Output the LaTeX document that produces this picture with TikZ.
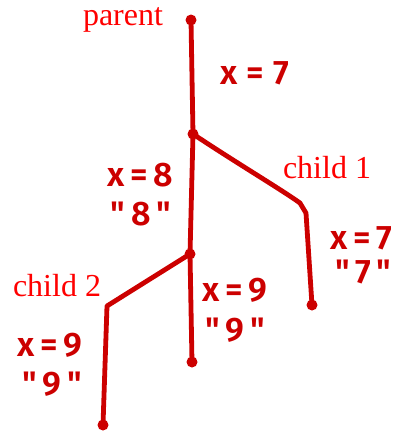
\documentclass[tikz,border=0pt]{standalone}
\usepackage{fontspec}
\setmainfont{Liberation Serif}
\newfontfamily\handfont{Fira Sans}[UprightFont=* SemiBold]
\definecolor{ink}{HTML}{CC0000}
\definecolor{lbl}{HTML}{FF0000}
\begin{document}
\begin{tikzpicture}[x=1pt,y=-1pt,
  branch/.style={draw=ink,line width=4.8pt,line cap=round,line join=round},
  enddot/.style={circle,fill=ink,inner sep=0pt,minimum size=11pt},
  kink/.style={inner sep=0pt,minimum size=0pt},
  nametxt/.style={text=lbl,font=\fontsize{32}{34}\selectfont,inner sep=0pt},
  handtxt/.style={text=ink,font=\handfont\fontsize{34}{36}\selectfont,inner sep=0pt}]
\useasboundingbox (0,0) rectangle (394,432);
\node[enddot] (p) at (191,20) {};
\node[enddot] (f1) at (193,134) {};
\node[kink] (b1) at (306,213) {};
\node[enddot] (c1) at (312,305) {};
\node[enddot] (f2) at (190,254) {};
\node[kink] (b2) at (107,306) {};
\node[enddot] (c2) at (103,425) {};
\node[enddot] (m) at (192,362) {};
\draw[branch] (p.center) -- (f1.center);
\draw[branch] (f1.center) .. controls (235,162) and (282,190) .. (300,203) -- (b1.center) -- (c1.center);
\draw[branch] (f1.center) -- (f2.center);
\draw[branch] (f2.center) -- (b2.center) -- (c2.center);
\draw[branch] (f2.center) -- (m.center);
\node[nametxt] (tp) at (123,20) {parent};
\node[nametxt] (tc1) at (327,168) {child 1};
\node[nametxt] (tc2) at (57,286) {child 2};
\node[handtxt] (x7) at (255,73) {x\;=\;7};
\node[handtxt] (x8) at (140,175) {x\,=\,8};
\node[handtxt] (s8) at (141,214) {"\,8\,"};
\node[handtxt,anchor=west] (x7b) at (330,238) {x\,=\,7};
\node[handtxt,anchor=west] (s7) at (335,272) {"\,7\,"};
\node[handtxt] (x9a) at (235,290) {x\,=\,9};
\node[handtxt] (s9a) at (235,330) {"\,9\,"};
\node[handtxt] (x9b) at (50,345) {x\,=\,9};
\node[handtxt] (s9b) at (52,384) {"\,9\,"};
\end{tikzpicture}
\end{document}
